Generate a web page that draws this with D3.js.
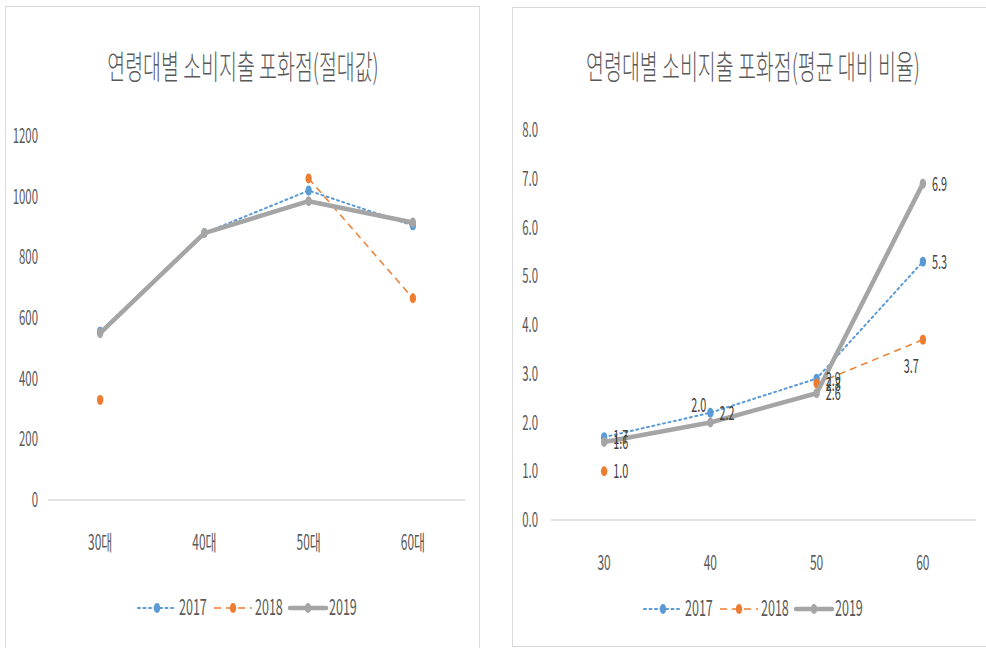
<!DOCTYPE html>
<html>
<head>
<meta charset="utf-8">
<script src="https://cdn.jsdelivr.net/npm/d3@7"></script>
<style>
  html, body { margin: 0; padding: 0; background: #ffffff; }
  svg { display: block; }
  text { font-family: "Noto Sans CJK KR", "Noto Sans", sans-serif; }
</style>
</head>
<body>
<svg id="chart" width="986" height="648"></svg>
<script>
// ---- data ----
const years = ["2017", "2018", "2019"];
const ageGroupsAbs = ["30대", "40대", "50대", "60대"];
const ageGroupsRatio = ["30", "40", "50", "60"];

// absolute saturation point
const abs2017 = [555, 880, 1020, 905];
const abs2018 = [330, null, 1060, 665];
const abs2019 = [550, 880, 985, 915];
const absTicks = [0, 200, 400, 600, 800, 1000, 1200];

// ratio to average
const ratio2017 = [1.7, 2.2, 2.9, 5.3];
const ratio2018 = [1.0, null, 2.8, 3.7];
const ratio2019 = [1.6, 2.0, 2.6, 6.9];
const ratioTicks = [0, 1, 2, 3, 4, 5, 6, 7, 8];

const titleAbs = "연령대별 소비지출 포화점(절대값)";
const titleRatio = "연령대별 소비지출 포화점(평균 대비 비율)";

// ---- styles ----
const seriesStyle = {
  "2017": { color: "#5b9bd5", width: 2, dash: "2,3.5", cap: "round" },
  "2018": { color: "#ed7d31", width: 1.5, dash: "7,5", cap: "butt" },
  "2019": { color: "#a5a5a5", width: 4.5, dash: null, cap: "round" }
};
const SX = 0.57;           // narrow glyph width
const textColor = "#595959";
const labelColor = "#404040";

const svg = d3.select("#chart");

function narrowText(g, x, y, str, opts) {
  return g.append("text")
    .attr("transform", `translate(${x},${y}) scale(${opts.sx || SX},1)`)
    .attr("text-anchor", opts.anchor || "middle")
    .attr("font-size", opts.size)
    .attr("font-weight", opts.weight || 400)
    .attr("fill", opts.fill || textColor)
    .text(str);
}

function drawPanel(cfg) {
  const g = svg.append("g");

  // frame
  g.append("rect")
    .attr("x", cfg.frame[0]).attr("y", cfg.frame[1])
    .attr("width", cfg.frame[2]).attr("height", cfg.frame[3])
    .attr("fill", "#ffffff").attr("stroke", "#d9d9d9").attr("stroke-width", 1);

  // title
  narrowText(g, cfg.titleX, 79, cfg.title, { size: 33, sx: 0.59, weight: 300, fill: "#595959" });

  const x = d3.scalePoint().domain(cfg.categories).range(cfg.xRange).padding(0.5);
  const y = d3.scaleLinear().domain(cfg.yDomain).range(cfg.yRange);

  // baseline
  g.append("line")
    .attr("x1", cfg.xRange[0]).attr("x2", cfg.xRange[1])
    .attr("y1", y(0)).attr("y2", y(0))
    .attr("stroke", "#d9d9d9").attr("stroke-width", 1.5);

  // y tick labels
  cfg.ticks.forEach(t => {
    narrowText(g, cfg.tickX, y(t) + 7, cfg.tickFormat(t), { size: 20, anchor: "end" });
  });

  // x category labels
  cfg.categories.forEach(c => {
    narrowText(g, x(c), y(0) + 50, c, { size: 21 });
  });

  // series lines and markers
  const seriesList = years.map((yr, i) => ({ year: yr, values: cfg.series[i] }));
  seriesList.forEach(s => {
    const st = seriesStyle[s.year];
    const pts = s.values.map((v, i) => ({ c: cfg.categories[i], v }));
    const line = d3.line()
      .defined(d => d.v != null)
      .x(d => x(d.c)).y(d => y(d.v));
    g.append("path")
      .datum(pts)
      .attr("d", line)
      .attr("fill", "none")
      .attr("stroke", st.color)
      .attr("stroke-width", st.width)
      .attr("stroke-dasharray", st.dash)
      .attr("stroke-linecap", st.cap)
      .attr("stroke-linejoin", "round");
    g.selectAll(null)
      .data(pts.filter(d => d.v != null))
      .join("ellipse")
      .attr("cx", d => x(d.c)).attr("cy", d => y(d.v))
      .attr("rx", 3.2).attr("ry", 5)
      .attr("fill", st.color);
  });

  // data labels
  if (cfg.labels) {
    seriesList.forEach((s, si) => {
      s.values.forEach((v, i) => {
        if (v == null) return;
        const place = cfg.labels(si, i);
        let lx = x(cfg.categories[i]), ly = y(v), anchor = "start";
        if (place === "right") { lx += 9; ly += 7; }
        else if (place === "above") { lx -= 4; ly -= 11; anchor = "end"; }
        else if (place === "belowLeft") { lx -= 4; ly += 33; anchor = "end"; }
        narrowText(g, lx, ly, d3.format(".1f")(v), { size: 19, anchor, fill: labelColor });
      });
    });
  }

  // legend
  const lg = g.append("g");
  let lx = cfg.legendX;
  const ly = cfg.legendY;
  years.forEach(yr => {
    const st = seriesStyle[yr];
    const segW = yr === "2019" ? 36 : 38;
    lg.append("line")
      .attr("x1", lx).attr("x2", lx + segW)
      .attr("y1", ly).attr("y2", ly)
      .attr("stroke", st.color).attr("stroke-width", st.width)
      .attr("stroke-dasharray", st.dash).attr("stroke-linecap", st.cap);
    lg.append("ellipse")
      .attr("cx", lx + segW / 2).attr("cy", ly)
      .attr("rx", 3.2).attr("ry", 5).attr("fill", st.color);
    narrowText(lg, lx + segW + 3, ly + 7, yr, { size: 22, anchor: "start" });
    lx += segW + 38;
  });
}

drawPanel({
  frame: [5.5, 6.5, 474, 650],
  title: titleAbs,
  titleX: 243,
  categories: ageGroupsAbs,
  xRange: [48, 465],
  yDomain: [0, 1200],
  yRange: [500, 136],
  ticks: absTicks,
  tickFormat: d3.format("d"),
  tickX: 38,
  series: [abs2017, abs2018, abs2019],
  labels: null,
  legendX: 138,
  legendY: 608
});

const ratioLabelPlace = (si, i) => {
  if (si === 2 && i === 1) return "above";
  if (si === 1 && i === 3) return "belowLeft";
  return "right";
};

drawPanel({
  frame: [512.5, 7.5, 480, 639],
  title: titleRatio,
  titleX: 753,
  categories: ageGroupsRatio,
  xRange: [551, 976],
  yDomain: [0, 8],
  yRange: [520, 130],
  ticks: ratioTicks,
  tickFormat: d3.format(".1f"),
  tickX: 538,
  series: [ratio2017, ratio2018, ratio2019],
  labels: ratioLabelPlace,
  legendX: 644,
  legendY: 609
});
</script>
</body>
</html>
